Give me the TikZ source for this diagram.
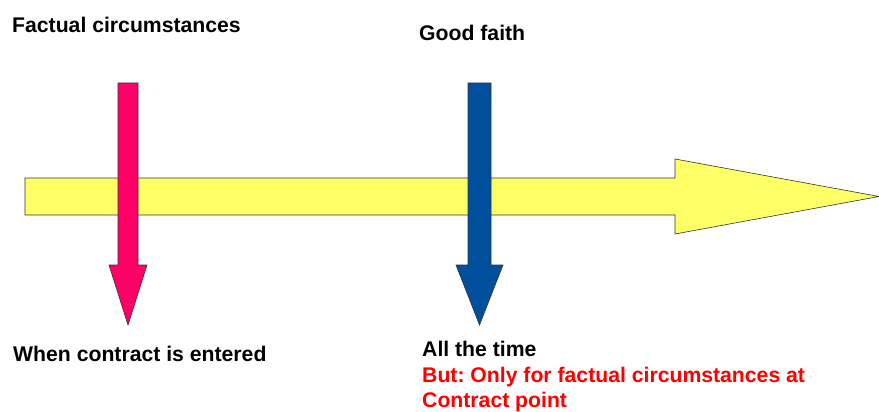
\documentclass[tikz,border=0pt]{standalone}
\usepackage{fontspec}
\setmainfont{Liberation Sans}
\frenchspacing
\definecolor{timeyellow}{HTML}{FFFF66}
\definecolor{factpink}{HTML}{FF0066}
\definecolor{faithblue}{HTML}{00509E}

\begin{document}
\begin{tikzpicture}[x=1pt, y=-1pt, font=\fontsize{21.2}{25.6}\selectfont\bfseries,
  label/.style={anchor=base west, inner sep=0pt},
  blockarrow/.style={draw=black!80, line width=0.6pt, line join=miter}]
\useasboundingbox (0,0) rectangle (879,412);
% time line
\coordinate (tstart) at (25,196.5); \coordinate (tend) at (879,196.5);
\draw[blockarrow, fill=timeyellow] (25,178) -- (675,178) -- (675,159) -- (tend) -- (675,234) -- (675,215) -- (25,215) -- cycle;
% factual circumstances arrow
\coordinate (ftop) at (128,83); \coordinate (ftip) at (128,325);
\draw[blockarrow, fill=factpink] (118,83) -- (138,83) -- (138,265) -- (147,265) -- (ftip) -- (109,265) -- (118,265) -- cycle;
% good faith arrow
\coordinate (gtop) at (479.5,83); \coordinate (gtip) at (479.5,325);
\draw[blockarrow, fill=faithblue] (468,83) -- (491,83) -- (491,265) -- (503,265) -- (gtip) -- (456,265) -- (468,265) -- cycle;
% labels
\node[label] (fact) at (12,33) {Factual circumstances};
\node[label] (faith) at (419,41) {Good faith};
\node[label] (entered) at (13,361) {When contract is entered};
\node[anchor=north west, inner sep=0pt, align=left] (always) at (422,341) {All the time\\\textcolor{red}{But: Only for factual circumstances at}\\\textcolor{red}{Contract point}};
\end{tikzpicture}
\end{document}
